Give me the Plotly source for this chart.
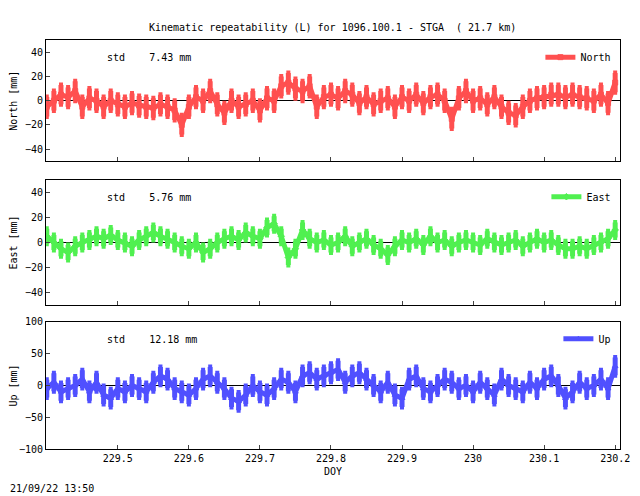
import plotly.graph_objects as go

# DOY sample times (every 0.01 day)
doy = [round(229.40 + 0.01 * i, 2) for i in range(81)]

north = [-5, 0, 5, 3, 8, -5, 2, 0, -5, 0, -3, -5, -2, -4, -5, -6, -3, -5, -8, -20,
         -5, 3, 0, 8, -3, -10, 0, -5, -3, 0, -8, 2, 0, 12, 15, 10, 8, 12, -5, 3,
         5, 2, 8, 5, -2, 3, -3, 0, 2, -5, 3, 0, 5, -2, 3, 5, 0, -15, 2, 8,
         0, 2, -3, 3, -5, -10, -12, -5, 0, 2, 3, 5, 5, 3, 5, 3, 2, 0, 5, -2, 15]
east = [5, 0, -5, -8, -3, 0, 2, 5, 3, 6, 2, 0, -3, 2, 5, 8, 5, 3, 0, -3,
        -5, 0, -8, -5, 0, 3, 5, 2, 8, 5, 3, 12, 15, 5, -12, -5, 10, 3, 0, 2,
        -2, 0, 5, -3, 0, 3, -2, -5, -10, -3, 2, 0, 3, -2, 5, 0, 2, -3, 0, 2,
        0, -2, 3, 0, -2, 0, 2, -3, 0, 3, 0, 2, -2, -5, -5, -3, -5, -2, 0, 3, 10]
up = [-5, 5, -10, -5, 0, 10, -10, 5, -15, -20, -5, -10, 0, -5, -10, 5, 15, 10, -5, -10,
      -15, -5, 10, 15, 5, -5, -20, -25, -15, 0, -10, -15, -5, 10, 5, -10, 15, 20, 10, 15,
      20, 25, 5, 15, 20, 10, 0, -10, 5, -15, -20, 10, 15, -5, -10, 0, 10, 5, -5, 0,
      -10, 5, -5, -15, 10, 0, -5, -10, 5, -5, 10, 15, 0, -20, -10, 5, -5, 0, 10, -5, 30]

xticks = [229.5, 229.6, 229.7, 229.8, 229.9, 230.0, 230.1, 230.2]
xlabels = ["229.5", "229.6", "229.7", "229.8", "229.9", "230", "230.1", "230.2"]

panels = [
    ("North", north, "#ff5050", "square-open", [-50, 50], [-40, -20, 0, 20, 40], [0.686, 0.934], "7.43", 8),
    ("East", east, "#50f050", "diamond", [-50, 50], [-40, -20, 0, 20, 40], [0.391, 0.648], "5.76", 6),
    ("Up", up, "#5050ff", "triangle-up", [-100, 100], [-100, -50, 0, 50, 100], [0.096, 0.357], "12.18", 14),
]

font = dict(family="DejaVu Sans Mono, monospace", size=10, color="black")
fig = go.Figure()
lay = {}
for i, (name, vals, col, sym, yr, yt, dom, std, err) in enumerate(panels):
    n = "" if i == 0 else str(i + 1)
    fig.add_trace(go.Scatter(
        x=doy, y=vals, name=name, mode="lines+markers", showlegend=True,
        line=dict(color=col, width=5),
        marker=dict(symbol=sym, color=col, size=5, line=dict(color=col, width=1)),
        error_y=dict(type="constant", value=err, color=col, thickness=5, width=2),
        xaxis="x" + n, yaxis="y" + n, legend="legend" + n,
    ))
    ax = dict(domain=[0.061, 0.981], range=[229.399, 230.207], showgrid=False,
              zeroline=False, showline=True, linecolor="black", mirror=True,
              ticks="inside", tickvals=xticks, ticktext=xlabels, ticklen=4,
              showticklabels=(i == 2), anchor="y" + n, automargin=False)
    if i == 2:
        ax["title"] = dict(text="DOY", font=font, standoff=4)
    lay["xaxis" + n] = ax
    lay["yaxis" + n] = dict(domain=dom, range=yr, tickvals=yt, showgrid=False,
                            zeroline=True, zerolinecolor="black", zerolinewidth=1,
                            showline=True, linecolor="black", mirror=True,
                            ticks="inside", ticklen=4, anchor="x" + n, automargin=False,
                            title=dict(text=name + " [mm]", font=font, standoff=6))
    lay["legend" + n] = dict(x=0.975, y=dom[1] - 0.005, xanchor="right", yanchor="top",
                             bgcolor="rgba(0,0,0,0)", font=font)
    fig.add_annotation(x=0.155, y=dom[1] - 0.02, xref="paper", yref="paper",
                       xanchor="left", yanchor="top", showarrow=False,
                       text="std    " + std + " mm", font=font)

fig.add_annotation(x=0.52, y=0.975, xref="paper", yref="paper", showarrow=False,
                   text="Kinematic repeatability (L) for 1096.100.1 - STGA  ( 21.7 km)",
                   font=font)
fig.add_annotation(x=0.0, y=0.0, xref="paper", yref="paper", xanchor="left",
                   yanchor="bottom", showarrow=False, text="21/09/22 13:50", font=font)

fig.update_layout(width=624, height=488, margin=dict(l=0, r=0, t=0, b=0),
                  plot_bgcolor="white", paper_bgcolor="white", font=font,
                  showlegend=True, **lay)
fig.write_html("out.html")
